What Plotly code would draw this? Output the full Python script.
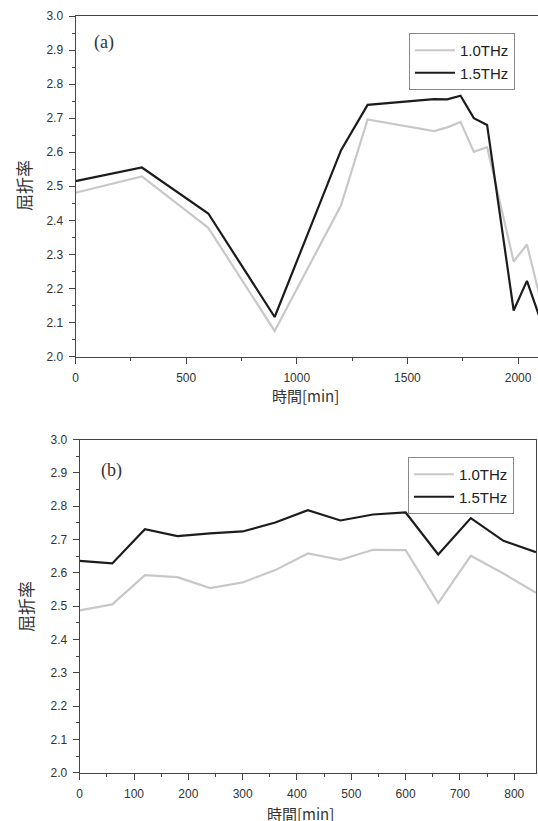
import plotly.graph_objects as go

W, H = 538, 821

# Panel (a)
time_a = [0, 300, 600, 900, 1200, 1320, 1620, 1680, 1740, 1800, 1860, 1980, 2040, 2100]
n10_a = [2.481, 2.529, 2.378, 2.075, 2.444, 2.696, 2.662, 2.673, 2.689, 2.601, 2.615, 2.279, 2.329, 2.17]
n15_a = [2.515, 2.555, 2.420, 2.116, 2.606, 2.739, 2.756, 2.755, 2.766, 2.700, 2.680, 2.135, 2.222, 2.11]

# Panel (b)
time_b = [0, 60, 120, 180, 240, 300, 360, 420, 480, 540, 600, 660, 720, 780, 840]
n10_b = [2.487, 2.505, 2.593, 2.587, 2.554, 2.571, 2.608, 2.658, 2.639, 2.669, 2.668, 2.509, 2.651, 2.598, 2.540]
n15_b = [2.636, 2.628, 2.731, 2.710, 2.718, 2.724, 2.751, 2.788, 2.757, 2.775, 2.781, 2.655, 2.764, 2.696, 2.662]

series_names = ["1.0THz", "1.5THz"]
GRAY = "#c8c8c8"
BLACK = "#1c1c1c"

def px_x(p):
    return p / W

def px_y(p):
    return 1 - p / H

fig = go.Figure()
fig.add_trace(go.Scatter(x=time_a, y=n10_a, mode="lines", name=series_names[0],
                         line=dict(color=GRAY, width=2.2), xaxis="x", yaxis="y", legend="legend"))
fig.add_trace(go.Scatter(x=time_a, y=n15_a, mode="lines", name=series_names[1],
                         line=dict(color=BLACK, width=2.2), xaxis="x", yaxis="y", legend="legend"))
fig.add_trace(go.Scatter(x=time_b, y=n10_b, mode="lines", name=series_names[0],
                         line=dict(color=GRAY, width=2.2), xaxis="x2", yaxis="y2", legend="legend2"))
fig.add_trace(go.Scatter(x=time_b, y=n15_b, mode="lines", name=series_names[1],
                         line=dict(color=BLACK, width=2.2), xaxis="x2", yaxis="y2", legend="legend2"))

tickfont = dict(family="Liberation Sans, Arial, sans-serif", size=12, color="#333333")
axcommon = dict(showgrid=False, zeroline=False, showline=True, linecolor="#444444", linewidth=1,
                ticks="outside", ticklen=6, tickcolor="#444444", tickfont=tickfont,
                automargin=False)
minor_x = lambda d: dict(dtick=d, ticks="outside", ticklen=3, tickcolor="#444444")
legfont = dict(family="Liberation Sans, Arial, sans-serif", size=15, color="#222222")

fig.update_layout(
    width=W, height=H,
    margin=dict(l=0, r=0, t=0, b=0, autoexpand=False),
    paper_bgcolor="white", plot_bgcolor="white",
    xaxis=dict(domain=[px_x(75.5), 1.0], range=[0, 2090], dtick=500, tick0=0,
               minor=minor_x(250), ticklabelstandoff=4,
               mirror=True, anchor="y", **axcommon),
    yaxis=dict(domain=[px_y(356.5), px_y(16)], range=[2.0, 3.0], dtick=0.1, tick0=2.0,
               tickformat=".1f", minor=minor_x(0.05), ticklabelstandoff=3,
               mirror=False, anchor="x", **axcommon),
    xaxis2=dict(domain=[px_x(79.7), px_x(536)], range=[0, 840], dtick=100, tick0=0,
                minor=minor_x(50), ticklabelstandoff=4,
                mirror=True, anchor="y2", **axcommon),
    yaxis2=dict(domain=[px_y(772.7), px_y(439.5)], range=[2.0, 3.0], dtick=0.1, tick0=2.0,
                tickformat=".1f", minor=minor_x(0.05), ticklabelstandoff=3,
                mirror=True, anchor="x2", **axcommon),
    legend=dict(x=px_x(515), y=px_y(33), xanchor="right", yanchor="top",
                bordercolor="#888888", borderwidth=1, bgcolor="white", itemwidth=40,
                font=legfont, tracegroupgap=0),
    legend2=dict(x=px_x(514), y=px_y(457), xanchor="right", yanchor="top",
                 bordercolor="#888888", borderwidth=1, bgcolor="white", itemwidth=40,
                 font=legfont, tracegroupgap=0),
    showlegend=True,
)

jp = "Noto Sans CJK JP"
annots = [
    dict(text="(a)", x=px_x(104), y=px_y(43), font=dict(family="Liberation Serif, serif", size=18, color="#333333")),
    dict(text="(b)", x=px_x(111), y=px_y(471), font=dict(family="Liberation Serif, serif", size=18, color="#333333")),
    dict(text="時間[min]", x=px_x(305), y=px_y(395), font=dict(family=jp, size=15, color="#333333")),
    dict(text="時間[min]", x=px_x(300), y=px_y(813), font=dict(family=jp, size=15, color="#333333")),
    dict(text="屈折率", x=px_x(24), y=px_y(186), textangle=-90, font=dict(family=jp, size=17, color="#333333")),
    dict(text="屈折率", x=px_x(25), y=px_y(607), textangle=-90, font=dict(family=jp, size=17, color="#333333")),
]
for a in annots:
    fig.add_annotation(xref="paper", yref="paper", showarrow=False, xanchor="center", yanchor="middle", **a)

fig.write_html("out.html",
               config={"displayModeBar": False},
               post_script="document.body.style.margin='0';document.body.style.overflow='hidden';")
